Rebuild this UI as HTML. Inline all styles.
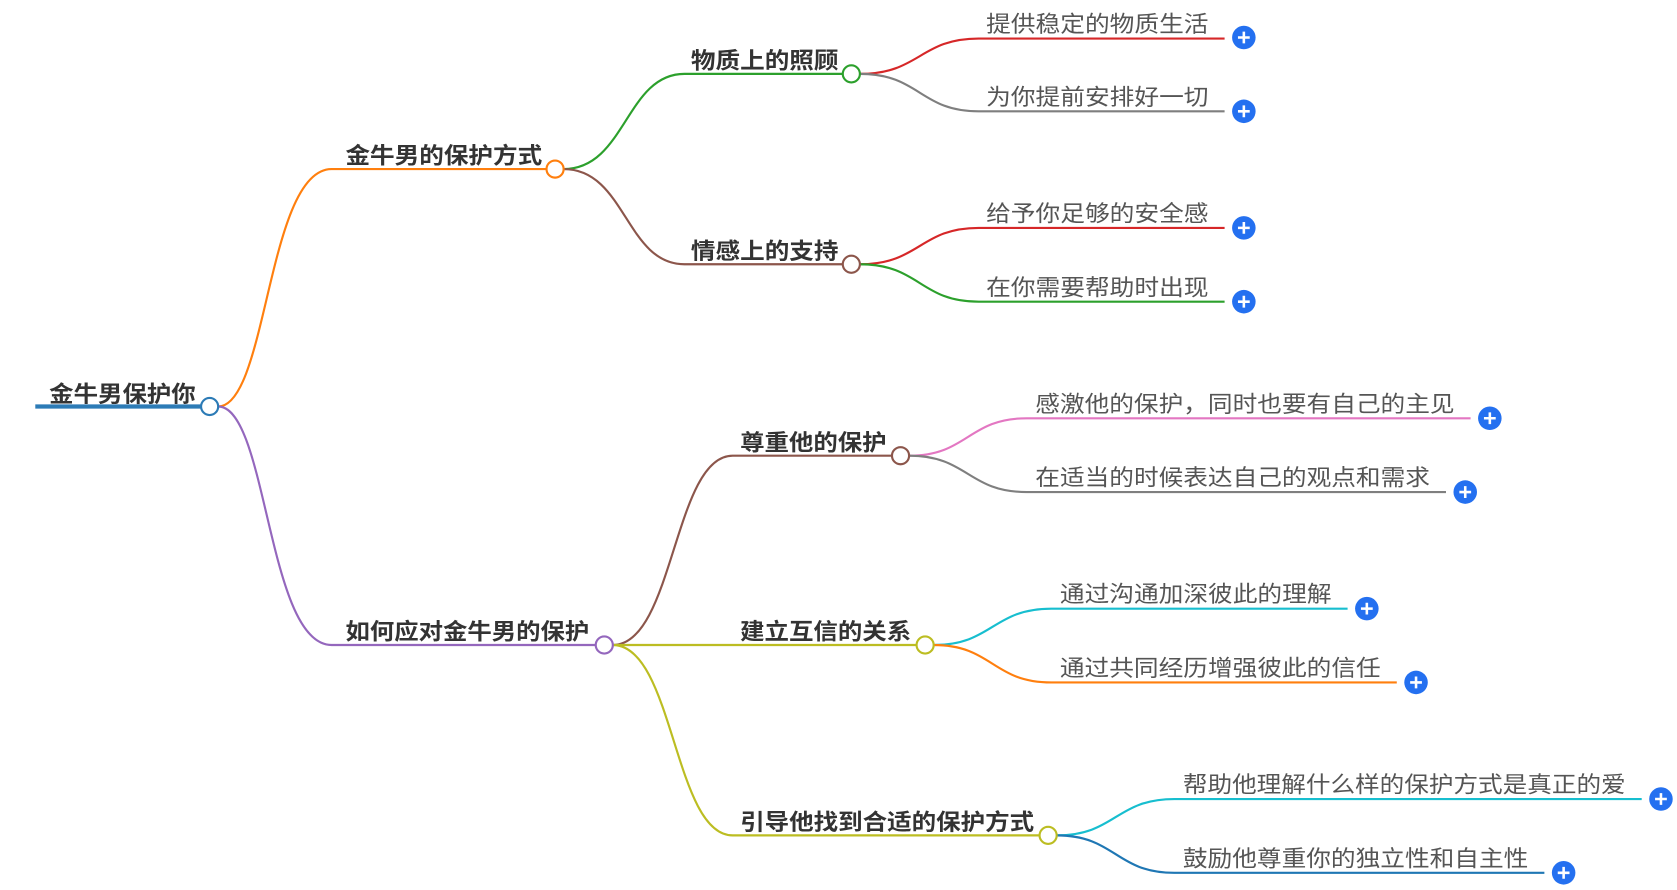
<!DOCTYPE html>
<html><head><meta charset="utf-8"><style>
html,body{margin:0;padding:0;background:#fff;}
svg{display:block;}
text{font-family:"Liberation Sans","Noto Sans CJK SC",sans-serif;}
.b{font-weight:bold;fill:#333;font-size:21px;}
.l{fill:#555;font-size:21px;}
</style></head><body>
<svg width="1677" height="890" viewBox="0 0 1568 832" xmlns="http://www.w3.org/2000/svg">
<g fill="none" stroke-width="2">
<!-- root -->
<path d="M204,380 C250,380 250,158 310,158 L511,158" stroke="#ff7f0e"/>
<path d="M204,380 C250,380 250,603 310,603 L557,603" stroke="#9467bd"/>
<!-- level1 -> level2 -->
<path d="M527,158 C585,158 585,69 640,69 L788,69" stroke="#2ca02c"/>
<path d="M527,158 C585,158 585,247 640,247 L788,247" stroke="#8c564b"/>
<path d="M573,603 C630,603 630,426 685,426 L834,426" stroke="#8c564b"/>
<path d="M573,603 L857,603" stroke="#bcbd22"/>
<path d="M573,603 C630,603 630,781 685,781 L972,781" stroke="#bcbd22"/>
<!-- level2 -> level3 -->
<path d="M804,69 C860,69 860,36 915,36 L1145,36" stroke="#d62728"/>
<path d="M804,69 C860,69 860,104 915,104 L1145,104" stroke="#7f7f7f"/>
<path d="M804,247 C860,247 860,213 915,213 L1145,213" stroke="#d62728"/>
<path d="M804,247 C860,247 860,282 915,282 L1145,282" stroke="#2ca02c"/>
<path d="M850,426 C905,426 905,391 960,391 L1375,391" stroke="#e377c2"/>
<path d="M850,426 C905,426 905,460 960,460 L1352,460" stroke="#7f7f7f"/>
<path d="M873,603 C928,603 928,569 983,569 L1260,569" stroke="#17becf"/>
<path d="M873,603 C928,603 928,638 983,638 L1306,638" stroke="#ff7f0e"/>
<path d="M988,781 C1043,781 1043,747 1098,747 L1535,747" stroke="#17becf"/>
<path d="M988,781 C1043,781 1043,816 1098,816 L1444,816" stroke="#1f77b4"/>
</g>
<line x1="33" y1="380" x2="190" y2="380" stroke="#2c7bb6" stroke-width="4"/>
<g fill="#fff" stroke-width="2">
<circle cx="196" cy="380" r="8" stroke="#2c7bb6"/>
<circle cx="519" cy="158" r="8" stroke="#ff7f0e"/>
<circle cx="565" cy="603" r="8" stroke="#9467bd"/>
<circle cx="796" cy="69" r="8" stroke="#2ca02c"/>
<circle cx="796" cy="247" r="8" stroke="#8c564b"/>
<circle cx="842" cy="426" r="8" stroke="#8c564b"/>
<circle cx="865" cy="603" r="8" stroke="#bcbd22"/>
<circle cx="980" cy="781" r="8" stroke="#bcbd22"/>
</g>
<g class="b">
<text x="46" y="376" textLength="137" lengthAdjust="spacingAndGlyphs">金牛男保护你</text>
<text x="323" y="153" textLength="184" lengthAdjust="spacingAndGlyphs">金牛男的保护方式</text>
<text x="323" y="598" textLength="228" lengthAdjust="spacingAndGlyphs">如何应对金牛男的保护</text>
<text x="646" y="64" textLength="138" lengthAdjust="spacingAndGlyphs">物质上的照顾</text>
<text x="646" y="242" textLength="138" lengthAdjust="spacingAndGlyphs">情感上的支持</text>
<text x="692" y="421" textLength="137" lengthAdjust="spacingAndGlyphs">尊重他的保护</text>
<text x="692" y="598" textLength="160" lengthAdjust="spacingAndGlyphs">建立互信的关系</text>
<text x="692" y="776" textLength="275" lengthAdjust="spacingAndGlyphs">引导他找到合适的保护方式</text>
</g>
<g class="l">
<text x="922" y="30" textLength="208" lengthAdjust="spacingAndGlyphs">提供稳定的物质生活</text>
<text x="922" y="98" textLength="208" lengthAdjust="spacingAndGlyphs">为你提前安排好一切</text>
<text x="922" y="207" textLength="208" lengthAdjust="spacingAndGlyphs">给予你足够的安全感</text>
<text x="922" y="276" textLength="208" lengthAdjust="spacingAndGlyphs">在你需要帮助时出现</text>
<text x="968" y="385" textLength="392" lengthAdjust="spacingAndGlyphs">感激他的保护，同时也要有自己的主见</text>
<text x="968" y="454" textLength="369" lengthAdjust="spacingAndGlyphs">在适当的时候表达自己的观点和需求</text>
<text x="991" y="563" textLength="254" lengthAdjust="spacingAndGlyphs">通过沟通加深彼此的理解</text>
<text x="991" y="632" textLength="300" lengthAdjust="spacingAndGlyphs">通过共同经历增强彼此的信任</text>
<text x="1106" y="741" textLength="414" lengthAdjust="spacingAndGlyphs">帮助他理解什么样的保护方式是真正的爱</text>
<text x="1106" y="810" textLength="323" lengthAdjust="spacingAndGlyphs">鼓励他尊重你的独立性和自主性</text>
</g>
<defs><g id="p"><circle r="11" fill="#2470f0"/><path d="M-5.5,0H5.5M0,-5.5V5.5" stroke="#fff" stroke-width="2.4"/></g></defs>
<use href="#p" x="1163" y="35"/>
<use href="#p" x="1163" y="104"/>
<use href="#p" x="1163" y="213"/>
<use href="#p" x="1163" y="282"/>
<use href="#p" x="1393" y="391"/>
<use href="#p" x="1370" y="460"/>
<use href="#p" x="1278" y="569"/>
<use href="#p" x="1324" y="638"/>
<use href="#p" x="1553" y="747"/>
<use href="#p" x="1462" y="816"/>
</svg>
</body></html>
